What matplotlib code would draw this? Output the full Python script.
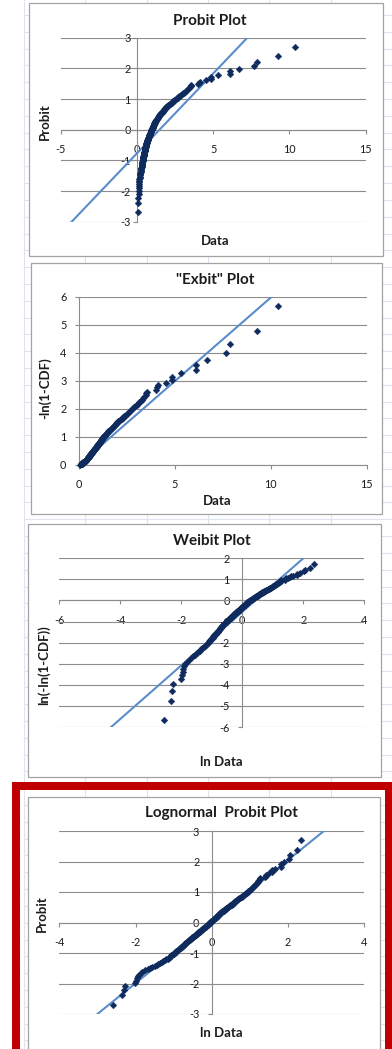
import numpy as np
import matplotlib
matplotlib.use("Agg")
import matplotlib.pyplot as plt
from matplotlib.patches import Rectangle
from statistics import NormalDist

# ---------------------------------------------------------------------------
# Sample (n = 200), natural log of each measured value, sorted ascending
# ---------------------------------------------------------------------------
log_data = [
    -2.58, -2.35, -2.30, -2.27, -2.02, -1.99, -1.95, -1.93, -1.90, -1.87,
    -1.82, -1.74, -1.68, -1.62, -1.56, -1.50, -1.45, -1.40, -1.35, -1.31,
    -1.27, -1.23, -1.19, -1.15, -1.12, -1.09, -1.08, -1.07, -1.06, -1.03,
    -0.99, -0.97, -0.96, -0.95, -0.93, -0.91, -0.89, -0.87, -0.85, -0.83,
    -0.81, -0.80, -0.79, -0.77, -0.76, -0.74, -0.72, -0.71, -0.70, -0.69,
    -0.67, -0.66, -0.65, -0.63, -0.62, -0.60, -0.59, -0.57, -0.56, -0.55,
    -0.53, -0.52, -0.51, -0.49, -0.48, -0.47, -0.45, -0.44, -0.42, -0.41,
    -0.40, -0.38, -0.37, -0.36, -0.35, -0.33, -0.32, -0.31, -0.30, -0.28,
    -0.27, -0.26, -0.25, -0.23, -0.22, -0.21, -0.20, -0.18, -0.17, -0.16,
    -0.15, -0.14, -0.12, -0.11, -0.10, -0.09, -0.08, -0.07, -0.06, -0.05,
    -0.04, -0.03, -0.02, -0.01, 0.00, 0.02, 0.03, 0.04, 0.05, 0.07,
    0.08, 0.09, 0.10, 0.11, 0.12, 0.13, 0.14, 0.15, 0.16, 0.17,
    0.18, 0.19, 0.20, 0.21, 0.22, 0.23, 0.25, 0.27, 0.28, 0.30,
    0.31, 0.32, 0.34, 0.35, 0.37, 0.38, 0.39, 0.41, 0.42, 0.43,
    0.45, 0.47, 0.48, 0.50, 0.52, 0.53, 0.55, 0.56, 0.58, 0.59,
    0.60, 0.62, 0.63, 0.65, 0.66, 0.68, 0.70, 0.72, 0.74, 0.76,
    0.78, 0.80, 0.82, 0.84, 0.86, 0.88, 0.90, 0.92, 0.94, 0.96,
    0.98, 1.00, 1.02, 1.04, 1.06, 1.08, 1.10, 1.12, 1.14, 1.166,
    1.185, 1.203, 1.224, 1.247, 1.258, 1.270, 1.391, 1.409, 1.421, 1.509,
    1.575, 1.583, 1.668, 1.805, 1.808, 1.896, 2.036, 2.063, 2.226, 2.341,
]

# Reference lines drawn on each plot
probit_fit = (1.48, 1.92)       # normal: mean, sd     -> probit = (x - mean) / sd
exbit_mean = 1.675              # exponential: mean    -> -ln(1-CDF) = x / mean
weibit_fit = (1.27, -0.54)      # Weibull: slope, intercept on ln x
lognormal_fit = (-0.03, 0.99)   # lognormal: mu, sigma on ln x

titles = ["Probit Plot", '"Exbit" Plot', "Weibit Plot", "Lognormal  Probit Plot"]
xlabels = ["Data", "Data", "ln Data", "ln Data"]
ylabels = ["Probit", "-ln(1-CDF)", "ln(-ln(1-CDF))", "Probit"]
x_ticks = [[-5, 0, 5, 10, 15], [0, 5, 10, 15], [-6, -4, -2, 0, 2, 4], [-4, -2, 0, 2, 4]]
y_ticks = [[-3, -2, -1, 0, 1, 2, 3], [0, 1, 2, 3, 4, 5, 6],
           [-6, -5, -4, -3, -2, -1, 0, 1, 2], [-3, -2, -1, 0, 1, 2, 3]]

# ---------------------------------------------------------------------------
# Plotting positions (median ranks) and transforms
# ---------------------------------------------------------------------------
ln_x = np.array(log_data)
n = len(ln_x)
rank = np.arange(1, n + 1)
cdf = (rank - 0.3) / (n + 0.4)
probit = np.array([NormalDist().inv_cdf(p) for p in cdf])
data = np.exp(ln_x)
exbit = -np.log(1.0 - cdf)
weibit = np.log(exbit)

# ---------------------------------------------------------------------------
# Page layout (pixel units, origin top-left)
# ---------------------------------------------------------------------------
W, H = 392, 1049
plt.rcParams["font.family"] = ["Lato", "DejaVu Sans"]
plt.rcParams["axes.unicode_minus"] = False

fig = plt.figure(figsize=(W / 100, H / 100), dpi=100)
fig.patch.set_facecolor("white")

bg = fig.add_axes([0, 0, 1, 1])
bg.set_xlim(0, W)
bg.set_ylim(H, 0)
bg.axis("off")

# worksheet cell lines behind the charts
cell_col = "#dde4ee"
for yy in np.arange(15, H, 16.81):
    bg.plot([24, W], [yy, yy], color=cell_col, lw=0.8, zorder=0)
for xx in [24, 85, 146.7, 207.7, 269.3, 330.7]:
    bg.plot([xx, xx], [0, H], color=cell_col, lw=0.8, zorder=0)

# chart frames: (left, top, right, bottom)
frames = [(29.3, 3.3, 382.7, 255.7),
          (30.7, 263.3, 382.0, 514.0),
          (28.3, 524.0, 381.0, 777.0),
          (28.3, 796.7, 380.0, 1060.0)]
for (l, t, r, b) in frames:
    bg.add_patch(Rectangle((l, t), r - l, b - t, facecolor="white",
                           edgecolor="#a3a3a3", lw=0.9, zorder=1))

# red highlight box around the last chart
red = "#c00000"
bg.add_patch(Rectangle((12, 782), 8, H - 782 + 5, facecolor=red, edgecolor="none", zorder=3))
bg.add_patch(Rectangle((12, 782), W - 12, 8, facecolor=red, edgecolor="none", zorder=3))
bg.add_patch(Rectangle((385, 782), 8, H - 782 + 5, facecolor=red, edgecolor="none", zorder=3))

# plot areas: (left, top, right, bottom)
areas = [(60.7, 37.7, 365.7, 221.7),
         (79.0, 296.7, 366.7, 464.7),
         (59.3, 558.3, 364.3, 727.0),
         (59.3, 831.0, 364.3, 1014.0)]
xlims = [(-5, 15), (0, 15), (-6, 4), (-4, 4)]
ylims = [(-3, 3), (0, 6), (-6, 2), (-3, 3)]
title_pos = [(210, 20.7), (215, 280), (211.7, 541), (221.7, 812.7)]
xlabel_pos = [(215, 240.7), (216.7, 500.7), (221.7, 761.7), (221.7, 1032.7)]
ylabel_pos = [(45, 121.7), (45, 388), (43.3, 665), (41.7, 913.3)]
ytick_pad = [1.5, 6.0, 6.0, 6.0]

series_x = [data, data, ln_x, ln_x]
series_y = [probit, exbit, weibit, probit]

grid_col = "#8c8c8c"
marker_col = "#0f2a5c"
line_col = "#5a8ccb"
text_col = "#1c1c1c"


def fit_line(k, xs):
    if k == 0:
        m, s = probit_fit
        return (xs - m) / s
    if k == 1:
        return xs / exbit_mean
    if k == 2:
        a, b = weibit_fit
        return a * xs + b
    mu, sg = lognormal_fit
    return (xs - mu) / sg


def px2fig(x, y):
    return x / W, 1 - y / H


for k in range(4):
    l, t, r, b = areas[k]
    ax = fig.add_axes([l / W, 1 - b / H, (r - l) / W, (b - t) / H])
    ax.set_facecolor("none")
    ax.set_xlim(*xlims[k])
    ax.set_ylim(*ylims[k])

    for side in ("top", "right"):
        ax.spines[side].set_visible(False)
    ax.spines["left"].set_position(("data", 0))
    ax.spines["bottom"].set_position(("data", 0))
    for side in ("left", "bottom"):
        ax.spines[side].set_color(grid_col)
        ax.spines[side].set_linewidth(0.8)

    ax.set_xticks(x_ticks[k])
    ax.set_yticks(y_ticks[k])
    ax.tick_params(axis="x", direction="out", length=3, width=0.8, color=grid_col,
                   labelsize=7.8, labelcolor=text_col, pad=7.5)
    ax.tick_params(axis="y", direction="out", length=3, width=0.8, color=grid_col,
                   labelsize=7.8, labelcolor=text_col, pad=ytick_pad[k])
    ax.yaxis.grid(True, color=grid_col, lw=0.8)
    ax.set_axisbelow(True)

    xs = np.linspace(xlims[k][0], xlims[k][1], 400)
    ax.plot(xs, fit_line(k, xs), color=line_col, lw=1.5, zorder=2)
    ax.plot(series_x[k], series_y[k], linestyle="none", marker="D", markersize=3.4,
            color=marker_col, markeredgewidth=0.3, zorder=3, clip_on=False)

    fig.text(*px2fig(*title_pos[k]), titles[k], ha="center", va="center",
             fontsize=11, fontweight="bold", color=text_col)
    fig.text(*px2fig(*xlabel_pos[k]), xlabels[k], ha="center", va="center",
             fontsize=9.5, fontweight="bold", color=text_col)
    fig.text(*px2fig(*ylabel_pos[k]), ylabels[k], ha="center", va="center",
             rotation=90, fontsize=9.5, fontweight="bold", color=text_col)

fig.savefig("out.png", dpi=100, facecolor="white")
